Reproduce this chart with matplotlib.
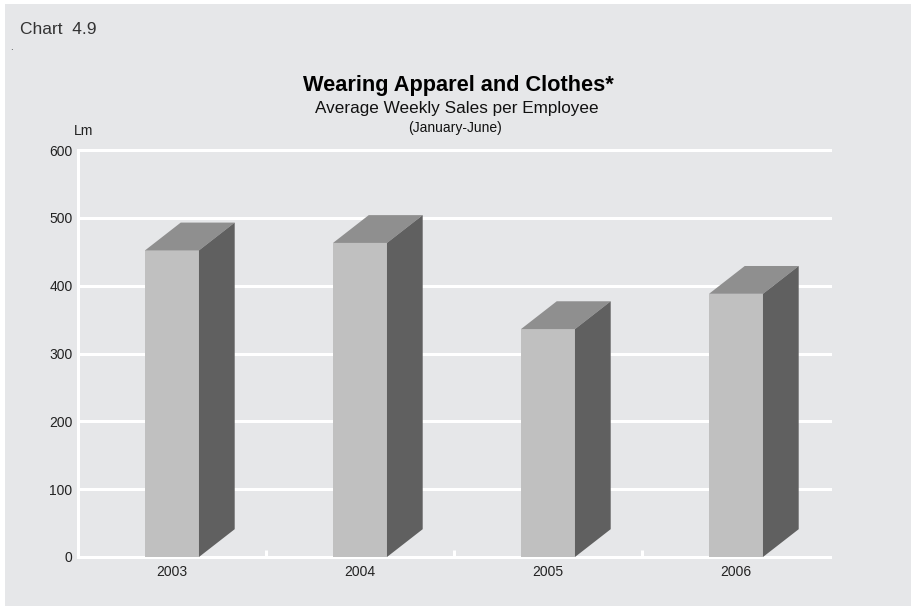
import matplotlib
matplotlib.use("Agg")
import matplotlib.pyplot as plt
from matplotlib.patches import Rectangle, Polygon

plt.rcParams['font.family'] = ['Liberation Sans', 'DejaVu Sans']

years = ['2003', '2004', '2005', '2006']
sales = [452, 463, 336, 388]
y_ticks = [0, 100, 200, 300, 400, 500, 600]

BG = '#e6e7e9'
FRONT = '#c0c0c0'
TOP = '#8f8f8f'
SIDE = '#606060'

# bar geometry in data units
bar_w = 0.287
depth_x = 0.19
depth_y = 41.0

fig = plt.figure(figsize=(9.12, 6.07), dpi=100)
fig.patch.set_facecolor('white')
fig.patches.append(Rectangle((5 / 912, 1 / 607), 1, 602 / 607,
                             transform=fig.transFigure, facecolor=BG,
                             edgecolor='none', zorder=-10))

ax = fig.add_axes([78 / 912, 50 / 607, 752 / 912, 407 / 607])
ax.set_facecolor(BG)
ax.set_xlim(-0.5, len(years) - 0.5)
ax.set_ylim(0, 600)
for s in ax.spines.values():
    s.set_visible(False)

# white gridlines and axis lines
for t in y_ticks:
    ax.axhline(t, color='white', lw=2.2, zorder=1, clip_on=False)
ax.axvline(-0.5, color='white', lw=2.2, zorder=1, clip_on=False)
ax.vlines([i + 0.5 for i in range(len(years) - 1)], 0, 10,
          color='white', lw=2.2, zorder=1)

# pseudo-3D bars: front, top and side faces
for i, v in enumerate(sales):
    x0 = i - bar_w / 2
    x1 = i + bar_w / 2
    ax.add_patch(Polygon([(x0, 0), (x1, 0), (x1, v), (x0, v)],
                         closed=True, facecolor=FRONT, edgecolor='none', zorder=3))
    ax.add_patch(Polygon([(x0, v), (x0 + depth_x, v + depth_y),
                          (x1 + depth_x, v + depth_y), (x1, v)],
                         closed=True, facecolor=TOP, edgecolor='none', zorder=3))
    ax.add_patch(Polygon([(x1, 0), (x1 + depth_x, depth_y),
                          (x1 + depth_x, v + depth_y), (x1, v)],
                         closed=True, facecolor=SIDE, edgecolor='none', zorder=3))

ax.set_xticks(range(len(years)))
ax.set_xticklabels(years, fontsize=10, color='#222222')
ax.set_yticks(y_ticks)
ax.set_yticklabels([str(t) for t in y_ticks], fontsize=10, color='#222222')
ax.tick_params(length=0, pad=4)
ax.tick_params(axis='x', pad=6)

fig.text(74 / 912, 1 - 131 / 607, 'Lm', fontsize=10, color='#222222',
         ha='left', va='center')
fig.text(20 / 912, 1 - 29 / 607, 'Chart  4.9', fontsize=12.5, color='#333333',
         ha='left', va='center')
fig.text(10 / 912, 1 - 47 / 607, '.', fontsize=7, color='#333333',
         ha='left', va='center')
fig.text(458 / 912, 1 - 85 / 607, 'Wearing Apparel and Clothes*', fontsize=15.7,
         fontweight='bold', color='black', ha='center', va='center')
fig.text(457 / 912, 1 - 109 / 607, 'Average Weekly Sales per Employee',
         fontsize=12.3, color='#111111', ha='center', va='center')
fig.text(455 / 912, 1 - 128 / 607, '(January-June)', fontsize=10,
         color='#111111', ha='center', va='center')

fig.savefig('out.png', dpi=100, facecolor=fig.get_facecolor())
